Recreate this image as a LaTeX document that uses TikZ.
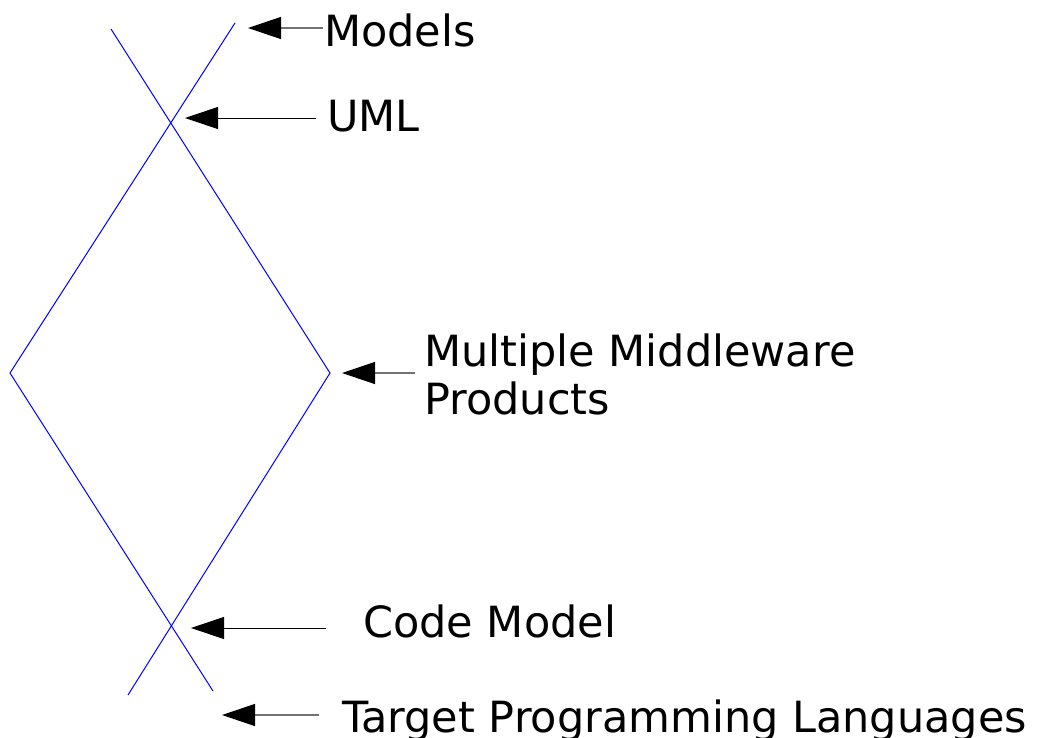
\documentclass[tikz,border=0pt]{standalone}
\usepackage{fontspec}
\setmainfont{DejaVu Sans}
\usetikzlibrary{arrows.meta}
\begin{document}
\begin{tikzpicture}[x=1pt,y=-1pt,
  edge/.style={draw=blue, line width=1pt},
  pointer/.style={-{Triangle[length=33pt,width=22pt,color=black]}, line width=1pt, draw=black},
  softpointer/.style={pointer, draw=black!55, line width=1.3pt},
  lbl/.style={anchor=base west, inner sep=0pt, font=\fontsize{43}{50}\selectfont}]
\useasboundingbox (0,0) rectangle (1042,737);

% crossing lines forming the diamond
\coordinate (topL) at (111,29);
\coordinate (topR) at (235,23);
\coordinate (west) at (10,373);
\coordinate (east) at (330,373);
\coordinate (botL) at (128,695);
\coordinate (botR) at (213,691);
\draw[edge] (topL) -- (east) -- (botL);
\draw[edge] (topR) -- (west) -- (botR);

% labels
\node[lbl] (models) at (324,46) {Models};
\node[lbl] (uml) at (327,131) {UML};
\node[lbl] (mw1) at (424,366) {Multiple Middleware};
\node[lbl] (mw2) at (424,414) {Products};
\node[lbl] (code) at (363,637) {Code Model};
\node[lbl] (target) at (342,732) {Target Programming Languages};

% pointer arrows
\coordinate (modelsT) at (323,28);  \coordinate (modelsH) at (248,28);
\coordinate (umlT) at (316,118);    \coordinate (umlH) at (185,118);
\coordinate (mwT) at (415,373);     \coordinate (mwH) at (342,373);
\coordinate (codeT) at (326,628);   \coordinate (codeH) at (191,628);
\coordinate (targetT) at (319,715); \coordinate (targetH) at (222,715);

\draw[softpointer] (modelsT) -- (modelsH);
\draw[pointer] (umlT) -- (umlH);
\draw[softpointer] (mwT) -- (mwH);
\draw[pointer] (codeT) -- (codeH);
\draw[softpointer] (targetT) -- (targetH);
\end{tikzpicture}
\end{document}
